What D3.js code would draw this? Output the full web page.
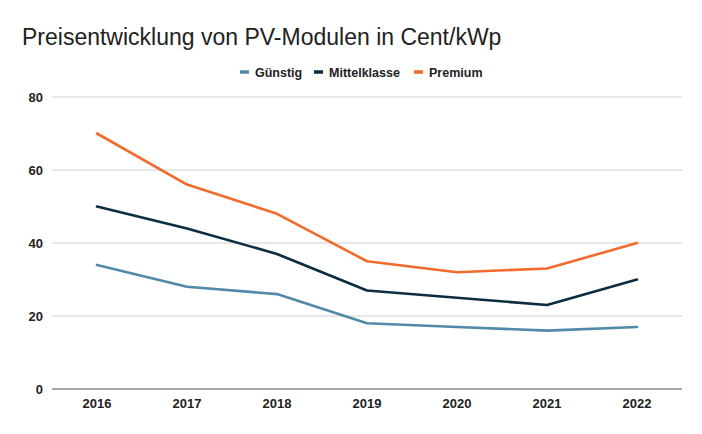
<!DOCTYPE html>
<html>
<head>
<meta charset="utf-8">
<script src="https://cdn.jsdelivr.net/npm/d3@7"></script>
<style>
  body { margin: 0; background: #fff; }
  text { font-family: "Liberation Sans", Arial, sans-serif; }
</style>
</head>
<body>
<div id="chart"></div>
<script>
// data
var years = ["2016", "2017", "2018", "2019", "2020", "2021", "2022"];
var seriesNames = ["Günstig", "Mittelklasse", "Premium"];
var guenstig = [34, 28, 26, 18, 17, 16, 17];
var mittelklasse = [50, 44, 37, 27, 25, 23, 30];
var premium = [70, 56, 48, 35, 32, 33, 40];
var yTicks = [0, 20, 40, 60, 80];
var colors = ["#5189a8", "#0c2d40", "#f26b2c"];

const W = 702, H = 434;
const margin = {top: 97, right: 20, bottom: 45, left: 52},
    width = W - margin.left - margin.right,
    height = H - margin.top - margin.bottom;

var svg = d3.select("#chart").append("svg")
    .attr("width", W)
    .attr("height", H);

svg.append("text")
    .attr("x", 22)
    .attr("y", 45)
    .attr("fill", "#222")
    .style("font-size", "23px")
    .text("Preisentwicklung von PV-Modulen in Cent/kWp");

var g = svg.append("g")
    .attr("transform", `translate(${margin.left}, ${margin.top})`);

var x = d3.scaleBand().domain(years).range([0, width]);
var y = d3.scaleLinear().domain([0, 80]).range([height, 0]);

// grid
g.append("g")
    .selectAll("line")
    .data(yTicks.filter(d => d > 0))
    .join("line")
    .attr("x1", 0)
    .attr("x2", width)
    .attr("y1", d => y(d))
    .attr("y2", d => y(d))
    .attr("stroke", "#cfcfcf")
    .attr("stroke-width", 1);

// y axis labels
var yAxis = g.append("g")
    .call(d3.axisLeft(y).tickValues(yTicks).tickSize(0).tickPadding(9));
yAxis.select(".domain").remove();
yAxis.selectAll("text")
    .attr("fill", "#222")
    .style("font-size", "13px")
    .style("font-weight", "bold")
    .style("font-family", "'Liberation Sans', Arial, sans-serif");

// baseline
g.append("line")
    .attr("x1", 0)
    .attr("x2", width)
    .attr("y1", y(0))
    .attr("y2", y(0))
    .attr("stroke", "#888")
    .attr("stroke-width", 1.5);

// x axis
var xAxis = g.append("g")
    .attr("transform", `translate(0, ${height})`)
    .call(d3.axisBottom(x).tickSize(0).tickPadding(10));
xAxis.select(".domain").remove();
xAxis.selectAll("text")
    .attr("fill", "#222")
    .style("font-size", "13px")
    .style("font-weight", "bold")
    .style("font-family", "'Liberation Sans', Arial, sans-serif");

// lines
var allSeries = [guenstig, mittelklasse, premium];
var line = d3.line()
    .x((d, i) => x(years[i]) + x.bandwidth() / 2)
    .y(d => y(d));

g.append("g")
    .selectAll("path")
    .data(allSeries)
    .join("path")
    .attr("d", d => line(d))
    .attr("fill", "none")
    .attr("stroke", (d, i) => colors[i])
    .attr("stroke-width", 2.6)
    .attr("stroke-linejoin", "round")
    .attr("stroke-linecap", "round");

// legend
var legendX = [240, 314, 414];
var legend = svg.append("g")
    .selectAll("g")
    .data(seriesNames)
    .join("g")
    .attr("transform", (d, i) => `translate(${legendX[i]}, 72)`);

legend.append("line")
    .attr("x1", 0)
    .attr("x2", 9)
    .attr("y1", 0)
    .attr("y2", 0)
    .attr("stroke", (d, i) => colors[i])
    .attr("stroke-width", 3.5);

legend.append("text")
    .attr("x", 15)
    .attr("y", 4.5)
    .attr("fill", "#222")
    .style("font-size", "12.5px")
    .style("font-weight", "bold")
    .text(d => d);
</script>
</body>
</html>
